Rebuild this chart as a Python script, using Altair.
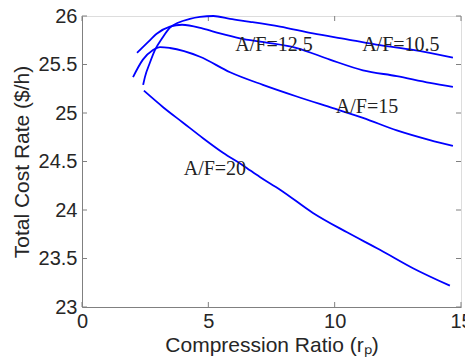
import altair as alt
import pandas as pd

# A/F = 10.5
x105 = [2.42, 2.49, 2.69, 2.89, 3.17, 3.48, 3.80, 4.27, 4.67, 5.2, 5.86, 6.65, 7.84, 9.14, 10.49, 11.79, 13.10, 14.68]
y105 = [25.29, 25.37, 25.52, 25.65, 25.77, 25.88, 25.93, 25.97, 25.99, 26.0, 25.97, 25.94, 25.89, 25.82, 25.76, 25.70, 25.65, 25.57]
# A/F = 12.5
x125 = [2.18, 2.57, 2.97, 3.48, 3.96, 4.79, 5.46, 6.25, 7.2, 8.5, 9.81, 11.12, 12.46, 13.77, 14.68]
y125 = [25.62, 25.72, 25.82, 25.89, 25.91, 25.87, 25.82, 25.77, 25.73, 25.67, 25.55, 25.44, 25.38, 25.31, 25.27]
# A/F = 15
x15 = [2.02, 2.41, 2.81, 3.09, 3.48, 4.67, 5.86, 7.16, 8.5, 9.93, 11.12, 12.46, 13.77, 14.68]
y15 = [25.37, 25.55, 25.65, 25.68, 25.67, 25.58, 25.42, 25.29, 25.17, 25.05, 24.95, 24.82, 24.72, 24.66]
# A/F = 20
x20 = [2.45, 3.21, 4.00, 4.79, 5.58, 6.37, 7.04, 7.84, 9.14, 10.49, 11.79, 13.10, 14.56]
y20 = [25.23, 25.06, 24.90, 24.74, 24.59, 24.46, 24.34, 24.21, 23.97, 23.77, 23.59, 23.40, 23.22]

series_names = ["A/F=10.5", "A/F=12.5", "A/F=15", "A/F=20"]
label_x = [12.62, 7.6, 11.28, 5.26]
label_y = [25.70, 25.70, 25.06, 24.42]

x_ticks = [0, 5, 10, 15]
y_ticks = [23, 23.5, 24, 24.5, 25, 25.5, 26]

rows = []
for name, xs, ys in zip(series_names, [x105, x125, x15, x20], [y105, y125, y15, y20]):
    for i, (a, b) in enumerate(zip(xs, ys)):
        rows.append({"series": name, "order": i, "x": a, "y": b})
df = pd.DataFrame(rows)
labels = pd.DataFrame({"text": series_names, "x": label_x, "y": label_y})
xt = pd.DataFrame({"t": x_ticks})
yt = pd.DataFrame({"t": y_ticks})

W, H = 379, 291
xscale = alt.Scale(domain=[0, 15], nice=False, zero=False)
yscale = alt.Scale(domain=[23, 26], nice=False, zero=False)

lines = alt.Chart(df).mark_line(color="#0000FF", strokeWidth=1.8, interpolate="monotone").encode(
    x=alt.X("x:Q", scale=xscale,
            axis=alt.Axis(title="Compression Ratio (rₚ)", values=x_ticks, format="d",
                          tickSize=0, labelPadding=4, titlePadding=3, grid=False,
                          domainColor="#808080", labelColor="#262626", titleColor="#262626",
                          labelFont="Liberation Sans", titleFont="Liberation Sans",
                          labelFontSize=20, titleFontSize=21, titleFontWeight="normal",
                          labelFlush=False)),
    y=alt.Y("y:Q", scale=yscale,
            axis=alt.Axis(title="Total Cost Rate ($/h)", values=y_ticks, format="~g",
                          tickSize=0, labelPadding=5, titlePadding=6, grid=False,
                          domainColor="#808080", labelColor="#262626", titleColor="#262626",
                          labelFont="Liberation Sans", titleFont="Liberation Sans",
                          labelFontSize=20, titleFontSize=21, titleFontWeight="normal",
                          labelFlush=False)),
    detail="series:N",
    order="order:Q",
)

text = alt.Chart(labels).mark_text(font="Liberation Serif", fontSize=20, color="#222222").encode(
    x=alt.X("x:Q", scale=xscale), y=alt.Y("y:Q", scale=yscale), text="text:N"
)

tick_col = "#808080"
xb = alt.Chart(xt).mark_rule(color=tick_col, strokeWidth=1).encode(
    x=alt.X("t:Q", scale=xscale), y=alt.value(H), y2=alt.value(H - 5))
xtop = alt.Chart(xt).mark_rule(color=tick_col, strokeWidth=1).encode(
    x=alt.X("t:Q", scale=xscale), y=alt.value(0), y2=alt.value(5))
yl = alt.Chart(yt).mark_rule(color=tick_col, strokeWidth=1).encode(
    y=alt.Y("t:Q", scale=yscale), x=alt.value(0), x2=alt.value(5))
yr = alt.Chart(yt).mark_rule(color=tick_col, strokeWidth=1).encode(
    y=alt.Y("t:Q", scale=yscale), x=alt.value(W), x2=alt.value(W - 5))

chart = alt.layer(xb, xtop, yl, yr, lines, text).properties(
    width=W, height=H,
    autosize=alt.AutoSizeParams(type="none"),
    padding={"left": 74, "top": 8, "right": 4, "bottom": 57},
).configure_view(stroke="#808080", strokeWidth=1).configure(background="white")

chart.save("out.html", embed_options={"renderer": "svg", "actions": False})
